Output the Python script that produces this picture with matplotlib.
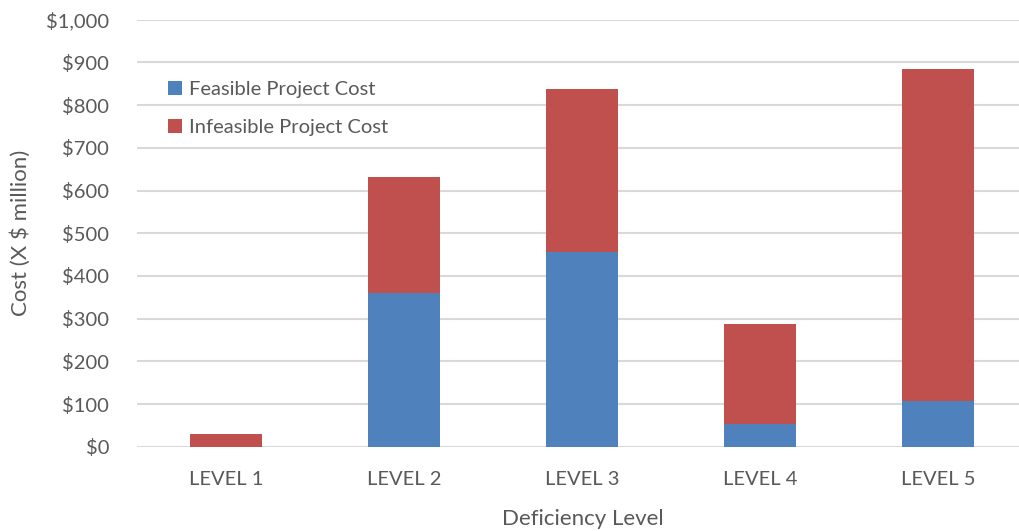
import matplotlib
matplotlib.use("Agg")
import matplotlib.pyplot as plt
from matplotlib.ticker import FuncFormatter

categories = ["LEVEL 1", "LEVEL 2", "LEVEL 3", "LEVEL 4", "LEVEL 5"]
feasible = [0, 361, 455, 53, 107]
infeasible = [30, 270, 383, 234, 777]

plt.rcParams['font.family'] = ['Lato', 'DejaVu Sans']
txt = '#595959'

fig = plt.figure(figsize=(10.19, 5.31), dpi=100)
W, H = 1019, 531
left_px, bottom_px, top_px = 137, 446.7, 19.7
ax = fig.add_axes([left_px / W, (H - bottom_px) / H, (W - left_px) / W, (bottom_px - top_px) / H])

x = list(range(len(categories)))
bw = 0.404
ax.bar(x, feasible, width=bw, color='#4F81BD', label='Feasible Project Cost', zorder=3)
ax.bar(x, infeasible, width=bw, bottom=feasible, color='#C0504D', label='Infeasible Project Cost', zorder=3)

spacing = 178
ax.set_xlim(-0.5, -0.5 + (W - left_px) / spacing)
ax.set_ylim(0, 1000)
ax.set_yticks(range(0, 1001, 100))
ax.yaxis.set_major_formatter(FuncFormatter(lambda v, p: f"${int(v):,}"))
ax.set_xticks(x)
ax.set_xticklabels(categories)
ax.grid(axis='y', color='#D9D9D9', linewidth=1.5, zorder=0)
for s in ax.spines.values():
    s.set_visible(False)
ax.tick_params(axis='both', length=0, colors=txt)
ax.tick_params(axis='y', pad=20, labelsize=14.5)
ax.tick_params(axis='x', pad=17.5, labelsize=14.5)
ax.set_ylabel("Cost (X $ million)", color=txt, fontsize=16, va='center', ha='center')
ax.set_xlabel("Deficiency Level", color=txt, fontsize=16, va='center', ha='center')
ax.yaxis.set_label_coords(-116 / 882, 0.5)
ax.xaxis.set_label_coords(0.506, (446.7 - 519) / 427)

leg = ax.legend(loc='upper left', bbox_to_anchor=(168 / W, (H - 81) / H), bbox_transform=fig.transFigure,
                frameon=False, fontsize=14.5, handlelength=0.7, handleheight=0.7, handletextpad=0.35,
                labelspacing=1.05, borderaxespad=0, borderpad=0)
for t in leg.get_texts():
    t.set_color(txt)

fig.savefig("out.png", dpi=100)
